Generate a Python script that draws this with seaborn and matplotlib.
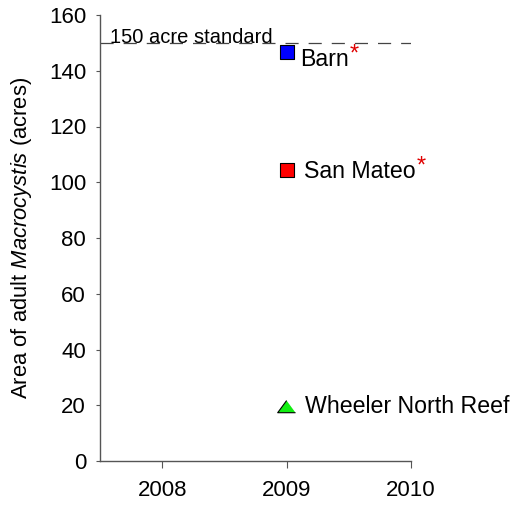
import matplotlib
matplotlib.use("Agg")
import matplotlib.pyplot as plt
import seaborn as sns
import pandas as pd

sites = ["Barn", "San Mateo", "Wheeler North Reef"]
years = [2009, 2009, 2009]
area = [146.8, 104.3, 19.5]
colors = ["#0000ff", "#ff0000", "#11ee11"]
markers = ["s", "s", [(0, 0.68), (-1, -0.68), (1, -0.68)]]
sizes = [100, 100, 165]
stars = [True, True, False]
standard = 150
standard_label = "150 acre standard"
xticks = [2008, 2009, 2010]
yticks = [0, 20, 40, 60, 80, 100, 120, 140, 160]

# label offsets (points)
label_dx = [9.5, 12.5, 13.0]
label_dy = [-5.5, -0.7, 0.0]

sns.set_style("ticks")
plt.rcParams["font.family"] = ["Liberation Sans", "DejaVu Sans"]
plt.rcParams["mathtext.fontset"] = "custom"
plt.rcParams["mathtext.it"] = "Liberation Sans:italic"
plt.rcParams["mathtext.rm"] = "Liberation Sans"
plt.rcParams["text.color"] = "black"
plt.rcParams["axes.labelcolor"] = "black"
plt.rcParams["xtick.labelcolor"] = "black"
plt.rcParams["ytick.labelcolor"] = "black"

df = pd.DataFrame({"site": sites, "year": years, "area": area})

fig = plt.figure(figsize=(5.14, 5.05), dpi=100)
ax = fig.add_axes([100/514, 1-461/505, 311/514, 446/505])

sns.scatterplot(data=df, x="year", y="area", hue="site", style="site", size="site",
                palette=dict(zip(sites, colors)), markers=dict(zip(sites, markers)),
                sizes=dict(zip(sites, sizes)),
                edgecolor="black", linewidth=0.8, legend=False, ax=ax, zorder=3)

for s, x, y, st, dx, dy in zip(sites, years, area, stars, label_dx, label_dy):
    t = ax.annotate(s, (x, y), xytext=(dx, dy), textcoords="offset points",
                    ha="left", va="center", fontsize=16.7, color="black")
    if st:
        ax.annotate("*", xy=(1, 1), xycoords=t, xytext=(0.5, -4.6), textcoords="offset points",
                    ha="left", va="center", fontsize=17, color="#e00000")

ax.axhline(standard, color="#444444", lw=0.9, ls=(0, (10.5, 8)), zorder=1)
ax.text(2007.58, standard, standard_label, fontsize=14.5, ha="left", va="baseline", color="black")

ax.set_xlim(2007.5, 2010)
ax.set_ylim(0, 160)
ax.set_xticks(xticks)
ax.set_yticks(yticks)
ax.tick_params(axis="both", labelsize=16, direction="out", width=0.8, color="#555555",
               labelcolor="black")
ax.tick_params(axis="x", length=5, pad=9)
ax.tick_params(axis="y", length=3, pad=7)
ax.set_xlabel("")
ax.set_ylabel("Area of adult $\\mathit{Macrocystis}$ (acres)", fontsize=15.8, labelpad=11,
              color="black")
for sp in ["top", "right"]:
    ax.spines[sp].set_visible(False)
for sp in ["left", "bottom"]:
    ax.spines[sp].set_color("#555555")
    ax.spines[sp].set_linewidth(1)

fig.savefig("out.png", dpi=100)
